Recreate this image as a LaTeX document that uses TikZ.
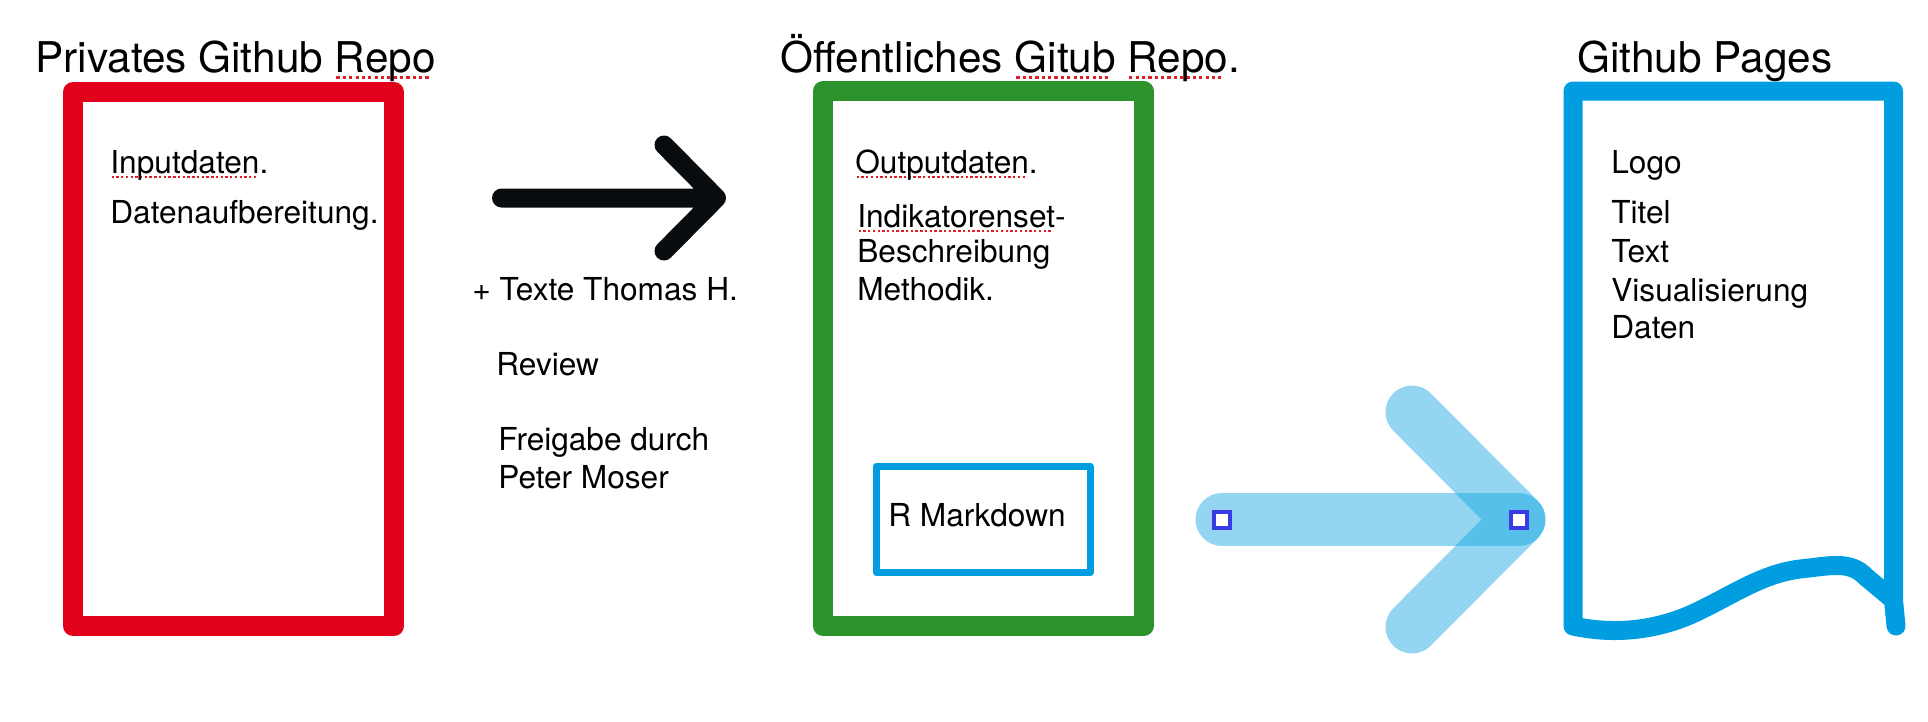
\documentclass[tikz,border=0pt]{standalone}
\usepackage{fontspec}
\setmainfont{TeX Gyre Heros}

\definecolor{rot}{RGB}{227,0,27}
\definecolor{gruen}{RGB}{44,146,44}
\definecolor{blau}{RGB}{0,158,224}
\definecolor{griffblau}{RGB}{55,60,230}
\definecolor{schwarz}{RGB}{8,12,14}
\definecolor{punktrot}{RGB}{225,30,40}

% rot gepunktete Unterstreichung
\newsavebox\fehlerbox
\newcommand\fehler[1]{\sbox\fehlerbox{#1}\rlap{\raisebox{-0.17em}{\color{punktrot}\leaders\hbox to 0.15em{\hss\rule{0.075em}{0.075em}\hss}\hskip\wd\fehlerbox}}#1}

\begin{document}
\begin{tikzpicture}[x=0.02cm, y=-0.02cm,
  rahmen/.style={line width=0.4cm, line join=round},
  gross/.style={anchor=base west, inner sep=0pt, font=\fontsize{24.1}{29}\selectfont},
  klein/.style={anchor=base west, inner sep=0pt, font=\fontsize{18}{22}\selectfont},
  griff/.style={draw=griffblau, fill=white, line width=0.08cm, minimum size=0.32cm, inner sep=0pt}]
\useasboundingbox (0,0) rectangle (1928,721);

% Privates Repo
\draw[rahmen, rot] (73,92) rectangle (394,626);
\node[gross] (titelprivat) at (35,72) {Privates Github \fehler{Repo}};
\node[klein] (input) at (110,173) {\fehler{Inputdaten}.};
\node[klein] (aufbereitung) at (110,223) {Datenaufbereitung.};

% Pfeil schwarz
\coordinate (startA) at (501.5,198);
\coordinate (spitzeA) at (716.5,198);
\draw[schwarz, line width=0.38cm, line cap=round, line join=round] (startA) -- (spitzeA) (664,145) -- (spitzeA) -- (664,251);
\node[klein] (texte) at (472,300) {+ Texte Thomas H.};
\node[klein] (review) at (496,375) {Review};
\node[klein] (freigabe) at (498,450) {Freigabe durch};
\node[klein] (moser) at (498,488) {Peter Moser};

% Oeffentliches Repo
\draw[rahmen, gruen] (823,91) rectangle (1143.5,626);
\node[gross] (titeloeffentlich) at (780,72) {Öffentliches \fehler{Gitub} \fehler{Repo}.};
\node[klein] (output) at (855,173) {\fehler{Outputdaten}.};
\node[klein] (indikatoren) at (857,227) {\fehler{Indikatorenset}-};
\node[klein] (beschreibung) at (857,262) {Beschreibung};
\node[klein] (methodik) at (857,300) {Methodik.};

% R Markdown
\draw[blau, line width=0.14cm, line join=round] (876.5,466) rectangle (1090,572.5);
\node[klein] (markdown) at (888,526) {R Markdown};

% Pfeil blau
\coordinate (startB) at (1222,519.5);
\coordinate (spitzeB) at (1519,519.5);
\draw[blau, opacity=0.42, line width=1.06cm, line cap=round] (startB) -- (spitzeB);
\draw[blau, opacity=0.42, line width=1.06cm, line cap=round, line join=round] (1412,412) -- (spitzeB) -- (1412,627);
\node[griff] (griffA) at (startB) {};
\node[griff] (griffB) at (spitzeB) {};

% Github Pages
\draw[blau, line width=0.38cm, line cap=round, line join=round] (1896,626) -- (1893.5,600) -- (1893.5,91) -- (1573,91) -- (1573,626)
  .. controls (1610,634) and (1650,632) .. (1690,615)
  .. controls (1730,597) and (1760,574) .. (1800,569)
  .. controls (1830,566) and (1850,560) .. (1866,577) -- (1890,597);
\node[gross] (titelpages) at (1577,72) {Github Pages};
\node[klein] (logo) at (1611,173) {Logo};
\node[klein] (titel) at (1611,223) {Titel};
\node[klein] (textzeile) at (1611,262) {Text};
\node[klein] (visual) at (1611,301) {Visualisierung};
\node[klein] (daten) at (1611,338) {Daten};
\end{tikzpicture}
\end{document}
